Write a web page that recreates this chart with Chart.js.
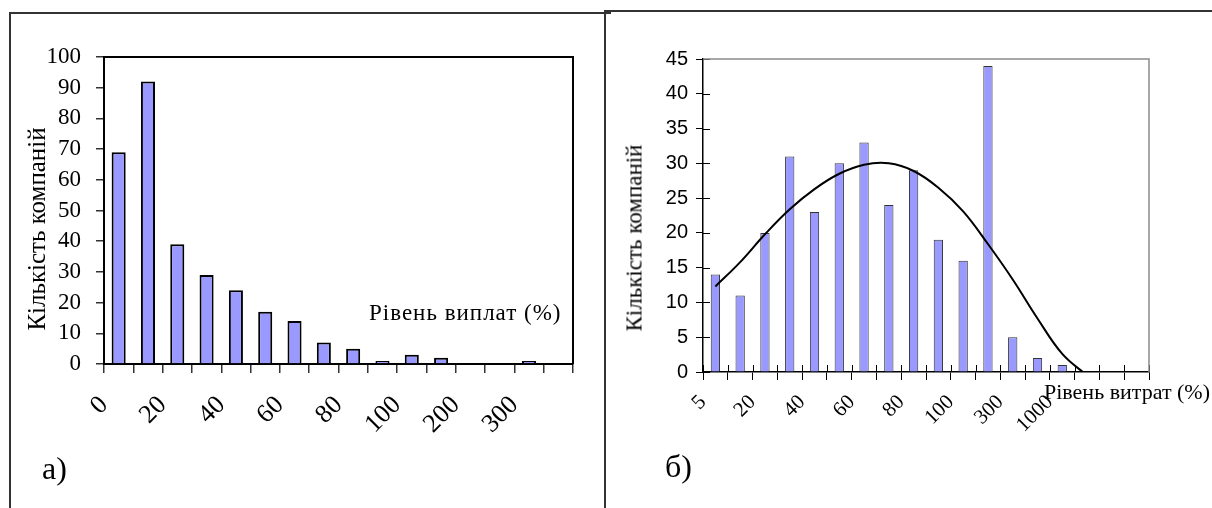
<!DOCTYPE html>
<html>
<head>
<meta charset="utf-8">
<script src="https://cdn.jsdelivr.net/npm/chart.js@4.4.1/dist/chart.umd.min.js"></script>
<style>
  body { margin: 0; background: #fff; }
  #wrap { position: relative; width: 1212px; height: 508px; overflow: hidden; }
  .panel { position: absolute; border-left: 2px solid #333; border-top: 2px solid #333; }
  canvas { position: absolute; top: 0; }
  .txt { position: absolute; font-family: "Liberation Serif", "Times New Roman", serif; color: #000; line-height: 1; white-space: nowrap; }
  .ytitle { transform: translate(-50%, -50%) rotate(-90deg); }
</style>
</head>
<body>
<div id="wrap">
  <div class="panel" style="left:9px;top:12px;width:600px;height:510px"></div>
  <div class="panel" style="left:604px;top:10px;width:620px;height:510px"></div>
  <canvas id="leftChart" width="605" height="508" style="left:0"></canvas>
  <canvas id="rightChart" width="607" height="508" style="left:605px"></canvas>
  <div class="txt ytitle" style="left:36px;top:229px;font-size:25px">Кількість компаній</div>
  <div class="txt ytitle" style="left:634px;top:238px;font-size:23px">Кількість компаній</div>
  <div class="txt" style="left:369px;top:301px;font-size:23px;letter-spacing:1px">Рівень виплат (%)</div>
  <div class="txt" style="left:1044px;top:381px;font-size:22px">Рівень витрат (%)</div>
  <div class="txt" style="left:42px;top:452px;font-size:32px">а)</div>
  <div class="txt" style="left:665px;top:450px;font-size:32px">б)</div>
</div>
<script>
// a) payout level histogram
const leftTickLabels = ['0', '20', '40', '60', '80', '100', '200', '300'];
const leftCounts = [69, 92, 39, 29, 24, 17, 14, 7, 5, 1, 3, 2, 0, 0, 1, 0];

// b) expense level histogram + fitted curve
const rightTickLabels = ['5', '20', '40', '60', '80', '100', '300', '1000'];
const rightCounts = [14, 11, 20, 31, 23, 30, 33, 24, 29, 19, 16, 44, 5, 2, 1, 0, 0, 0];
const rightFit = [12.3, 15.8, 19.8, 23.4, 26.3, 28.5, 29.8, 30.0, 28.9, 26.5, 23.1, 18.4, 13.3, 7.7, 2.6, -0.5];

// draws top and right sides of the plot box
const framePlugin = {
  id: 'frame',
  afterDatasetsDraw(chart, args, opts) {
    const { ctx, chartArea: a } = chart;
    ctx.save();
    ctx.strokeStyle = opts.color;
    ctx.lineWidth = opts.width;
    ctx.beginPath();
    ctx.moveTo(a.left, a.top);
    ctx.lineTo(a.right, a.top);
    ctx.lineTo(a.right, a.bottom);
    ctx.stroke();
    ctx.restore();
  }
};

// tick marks that reach into the plot (right chart)
const innerTicks = {
  id: 'innerTicks',
  beforeDatasetsDraw(chart, args, opts) {
    if (!opts.length) return;
    const { ctx, chartArea: a, scales } = chart;
    ctx.save();
    ctx.strokeStyle = opts.color;
    ctx.lineWidth = opts.width;
    ctx.beginPath();
    scales.x.ticks.forEach((t, i) => {
      const px = Math.round(scales.x.getPixelForTick(i)) + 0.5;
      ctx.moveTo(px, a.bottom);
      ctx.lineTo(px, a.bottom - opts.length);
    });
    scales.y.ticks.forEach((t, i) => {
      const py = Math.round(scales.y.getPixelForTick(i)) + 0.5;
      ctx.moveTo(a.left, py);
      ctx.lineTo(a.left + opts.length, py);
    });
    ctx.stroke();
    ctx.restore();
  }
};

Chart.register(framePlugin, innerTicks);

function evenLabel(labels) {
  return function (v) {
    return (v % 2 === 0 && v / 2 < labels.length) ? labels[v / 2] : '';
  };
}

// fixed axis sizes so the plot box lands where the original has it
function fixSize(w, h) {
  return s => {
    if (w) s.width = w;
    if (h) s.height = h;
    s.paddingLeft = 0;
    s.paddingRight = 0;
    s.paddingTop = 0;
    s.paddingBottom = 0;
  };
}

// left chart
new Chart(document.getElementById('leftChart'), {
  type: 'bar',
  data: {
    datasets: [{
      data: leftCounts.map((v, i) => ({ x: i + 0.5, y: v })),
      backgroundColor: '#9999ff',
      borderColor: '#000',
      borderWidth: 2,
      barPercentage: 0.48,
      categoryPercentage: 1
    }]
  },
  options: {
    responsive: false,
    animation: false,
    layout: { padding: { top: 57, right: 32, left: 0, bottom: 0 } },
    plugins: {
      legend: { display: false },
      tooltip: { enabled: false },
      frame: { color: '#000', width: 2 },
      innerTicks: { length: 0 }
    },
    scales: {
      x: {
        type: 'linear',
        offset: false,
        min: 0,
        max: leftCounts.length,
        afterFit: fixSize(0, 144),
        border: { color: '#000', width: 2 },
        grid: { offset: false, drawOnChartArea: false, tickLength: 9, color: '#333', lineWidth: 1.5 },
        ticks: {
          stepSize: 1,
          autoSkip: false,
          minRotation: 45,
          maxRotation: 45,
          padding: 17,
          color: '#000',
          font: { family: 'Liberation Serif', size: 26 },
          callback: evenLabel(leftTickLabels)
        }
      },
      y: {
        min: 0,
        max: 100,
        afterFit: fixSize(104, 0),
        border: { color: '#000', width: 2 },
        grid: { drawOnChartArea: false, tickLength: 8, color: '#333', lineWidth: 1.5 },
        ticks: {
          stepSize: 10,
          padding: 15,
          color: '#000',
          font: { family: 'Liberation Serif', size: 23 }
        }
      }
    }
  }
});

// right chart
new Chart(document.getElementById('rightChart'), {
  data: {
    datasets: [{
      type: 'line',
      data: rightFit.map((v, i) => ({ x: i + 0.5, y: v })),
      borderColor: '#000',
      borderWidth: 2,
      pointRadius: 0,
      tension: 0.4,
      fill: false
    }, {
      type: 'bar',
      data: rightCounts.map((v, i) => ({ x: i + 0.5, y: v })),
      backgroundColor: '#9999ff',
      borderColor: '#333',
      borderWidth: 1,
      barPercentage: 0.375,
      categoryPercentage: 1
    }]
  },
  options: {
    responsive: false,
    animation: false,
    layout: { padding: { top: 59, right: 63, left: 0, bottom: 0 } },
    plugins: {
      legend: { display: false },
      tooltip: { enabled: false },
      frame: { color: '#8a8a8a', width: 1.5 },
      innerTicks: { length: 7, color: '#000', width: 1 }
    },
    scales: {
      x: {
        type: 'linear',
        offset: false,
        min: 0,
        max: rightCounts.length,
        afterFit: fixSize(0, 136),
        border: { color: '#000', width: 1.5 },
        grid: { offset: false, drawOnChartArea: false, tickLength: 8, color: '#000', lineWidth: 1 },
        ticks: {
          stepSize: 1,
          autoSkip: false,
          minRotation: 45,
          maxRotation: 45,
          padding: 10,
          color: '#000',
          font: { family: 'Liberation Serif', size: 21 },
          callback: evenLabel(rightTickLabels)
        }
      },
      y: {
        min: 0,
        max: 45,
        afterFit: fixSize(98, 0),
        border: { color: '#000', width: 1.5 },
        grid: { drawOnChartArea: false, tickLength: 7, color: '#000', lineWidth: 1 },
        ticks: {
          stepSize: 5,
          padding: 8,
          color: '#000',
          font: { family: 'Liberation Sans', size: 20 }
        }
      }
    }
  }
});
</script>
</body>
</html>
